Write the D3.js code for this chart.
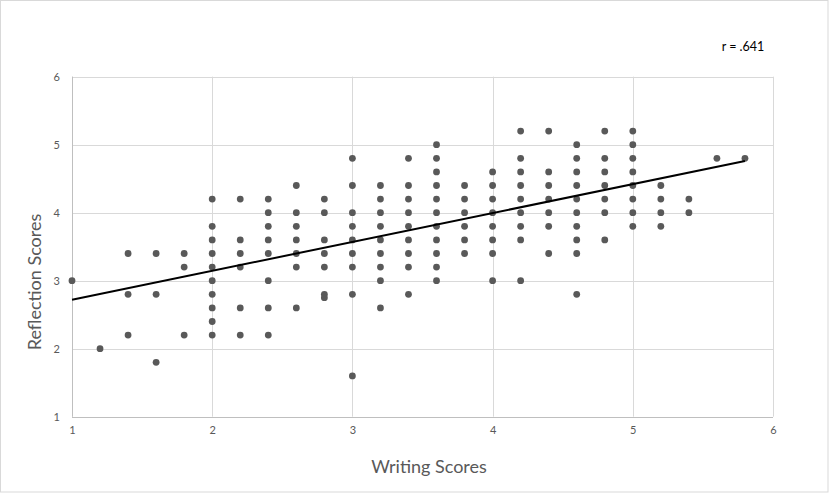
<!DOCTYPE html>
<html>
<head>
<meta charset="utf-8">
<script src="https://cdn.jsdelivr.net/npm/d3@7"></script>
<style>
  html, body { margin: 0; padding: 0; background: #fff; }
  svg { display: block; }
</style>
</head>
<body>
<div id="chart"></div>
<script>
// Writing score levels (x) and the reflection scores seen at each level (y)
var writingLevels = [1.0, 1.2, 1.4, 1.6, 1.8, 2.0, 2.2, 2.4, 2.6, 2.8, 3.0, 3.2, 3.4,
                     3.6, 3.8, 4.0, 4.2, 4.4, 4.6, 4.8, 5.0, 5.2, 5.4, 5.6, 5.8];
var reflectionByLevel = [
    [3.0],
    [2.0],
    [3.4, 2.8, 2.2],
    [3.4, 2.8, 1.8],
    [3.4, 3.2, 2.2],
    [4.2, 3.8, 3.6, 3.4, 3.2, 3.0, 2.8, 2.6, 2.4, 2.2],
    [4.2, 3.6, 3.4, 3.2, 2.6, 2.2],
    [4.2, 4.0, 3.8, 3.6, 3.4, 3.0, 2.6, 2.2],
    [4.4, 4.0, 3.8, 3.6, 3.4, 3.2, 2.6],
    [4.2, 4.0, 3.6, 3.4, 3.2, 2.8, 2.75],
    [4.8, 4.4, 4.0, 3.8, 3.6, 3.4, 3.2, 2.8, 1.6],
    [4.4, 4.2, 4.0, 3.8, 3.6, 3.4, 3.2, 3.0, 2.6],
    [4.8, 4.4, 4.2, 4.0, 3.8, 3.6, 3.4, 3.2, 2.8],
    [5.0, 4.8, 4.6, 4.4, 4.2, 4.0, 3.8, 3.6, 3.4, 3.2, 3.0],
    [4.4, 4.2, 4.0, 3.8, 3.6, 3.4],
    [4.6, 4.4, 4.2, 4.0, 3.8, 3.6, 3.4, 3.0],
    [5.2, 4.8, 4.6, 4.4, 4.2, 4.0, 3.8, 3.6, 3.0],
    [5.2, 4.6, 4.4, 4.2, 4.0, 3.8, 3.4],
    [5.0, 4.8, 4.6, 4.4, 4.2, 4.0, 3.8, 3.6, 3.4, 2.8],
    [5.2, 4.8, 4.6, 4.4, 4.2, 4.0, 3.6],
    [5.2, 5.0, 4.8, 4.6, 4.4, 4.2, 4.0, 3.8],
    [4.4, 4.2, 4.0, 3.8],
    [4.2, 4.0],
    [4.8],
    [4.8]
];

// Linear trendline as drawn (start and end)
var trendX = [1.0, 5.8];
var trendY = [2.72, 4.76];

var xTicks = [1, 2, 3, 4, 5, 6];
var yTicks = [1, 2, 3, 4, 5, 6];
var correlationLabel = "r = .641";

// Flatten into points
var points = [];
writingLevels.forEach(function(w, i) {
    reflectionByLevel[i].forEach(function(r) {
        points.push({ x: w, y: r });
    });
});

var width = 829, height = 493;
var plot = { left: 72, right: 773, top: 76.7, bottom: 416.7 };

var svg = d3.select("#chart")
            .append("svg")
                .attr("width", width)
                .attr("height", height)

// Outer chart border
svg.append("rect")
   .attr("x", 0.5)
   .attr("y", 0.5)
   .attr("width", width - 1.5)
   .attr("height", height - 1.5)
   .attr("fill", "#fff")
   .attr("stroke", "#d9d9d9")

var x = d3.scaleLinear()
          .domain([1, 6])
          .range([plot.left, plot.right])

var y = d3.scaleLinear()
          .domain([1, 6])
          .range([plot.bottom, plot.top])

// Gridlines
svg.append("g")
   .selectAll("line")
   .data(xTicks)
   .enter()
   .append("line")
        .attr("x1", function(v) { return Math.round(x(v)) + 0.5 })
        .attr("x2", function(v) { return Math.round(x(v)) + 0.5 })
        .attr("y1", y(6))
        .attr("y2", y(1))
        .attr("stroke", "#d9d9d9")

svg.append("g")
   .selectAll("line")
   .data(yTicks)
   .enter()
   .append("line")
        .attr("x1", x(1))
        .attr("x2", x(6))
        .attr("y1", function(v) { return Math.round(y(v)) + 0.5 })
        .attr("y2", function(v) { return Math.round(y(v)) + 0.5 })
        .attr("stroke", "#d9d9d9")

// Axis lines (slightly darker)
svg.append("line")
   .attr("x1", x(1)).attr("x2", x(6))
   .attr("y1", Math.round(y(1)) + 0.5).attr("y2", Math.round(y(1)) + 0.5)
   .attr("stroke", "#bfbfbf")

svg.append("line")
   .attr("x1", Math.round(x(1)) + 0.5).attr("x2", Math.round(x(1)) + 0.5)
   .attr("y1", y(6)).attr("y2", y(1))
   .attr("stroke", "#bfbfbf")

// Tick labels via D3 axes, domain and ticks removed
var xAxis = d3.axisBottom(x).tickValues(xTicks).tickSize(0).tickPadding(10).tickFormat(d3.format("d"));
svg.append("g")
   .attr("transform", `translate(0, ${y(1)})`)
   .call(xAxis)
   .call(function(g) { g.select(".domain").remove() })
   .selectAll("text")
        .style("font", "11px Lato, 'Open Sans', sans-serif")
        .attr("fill", "#595959")

var yAxis = d3.axisLeft(y).tickValues(yTicks).tickSize(0).tickPadding(12).tickFormat(d3.format("d"));
svg.append("g")
   .attr("transform", `translate(${x(1)}, 0)`)
   .call(yAxis)
   .call(function(g) { g.select(".domain").remove() })
   .selectAll("text")
        .style("font", "11px Lato, 'Open Sans', sans-serif")
        .attr("fill", "#595959")

// Points
svg.append("g")
   .selectAll("circle")
   .data(points)
   .enter()
   .append("circle")
        .attr("cx", function(d) { return x(d.x) })
        .attr("cy", function(d) { return y(d.y) })
        .attr("r", 3.4)
        .attr("fill", "#595959")

// Trendline
svg.append("line")
   .attr("x1", x(trendX[0]))
   .attr("x2", x(trendX[1]))
   .attr("y1", y(trendY[0]))
   .attr("y2", y(trendY[1]))
   .attr("stroke", "#000")
   .attr("stroke-width", 2)

// Axis titles
svg.append("text")
   .attr("x", 429)
   .attr("y", 473)
   .attr("text-anchor", "middle")
   .style("font", "18px Lato, 'Open Sans', sans-serif")
   .attr("fill", "#595959")
   .text("Writing Scores")

svg.append("text")
   .attr("transform", "translate(41, 282) rotate(-90)")
   .attr("text-anchor", "middle")
   .style("font", "18px Lato, 'Open Sans', sans-serif")
   .attr("fill", "#595959")
   .text("Reflection Scores")

// Correlation note
svg.append("text")
   .attr("x", 743)
   .attr("y", 51)
   .attr("text-anchor", "middle")
   .style("font", "12.5px Lato, 'Open Sans', sans-serif")
   .attr("fill", "#000")
   .text(correlationLabel)
</script>
</body>
</html>
